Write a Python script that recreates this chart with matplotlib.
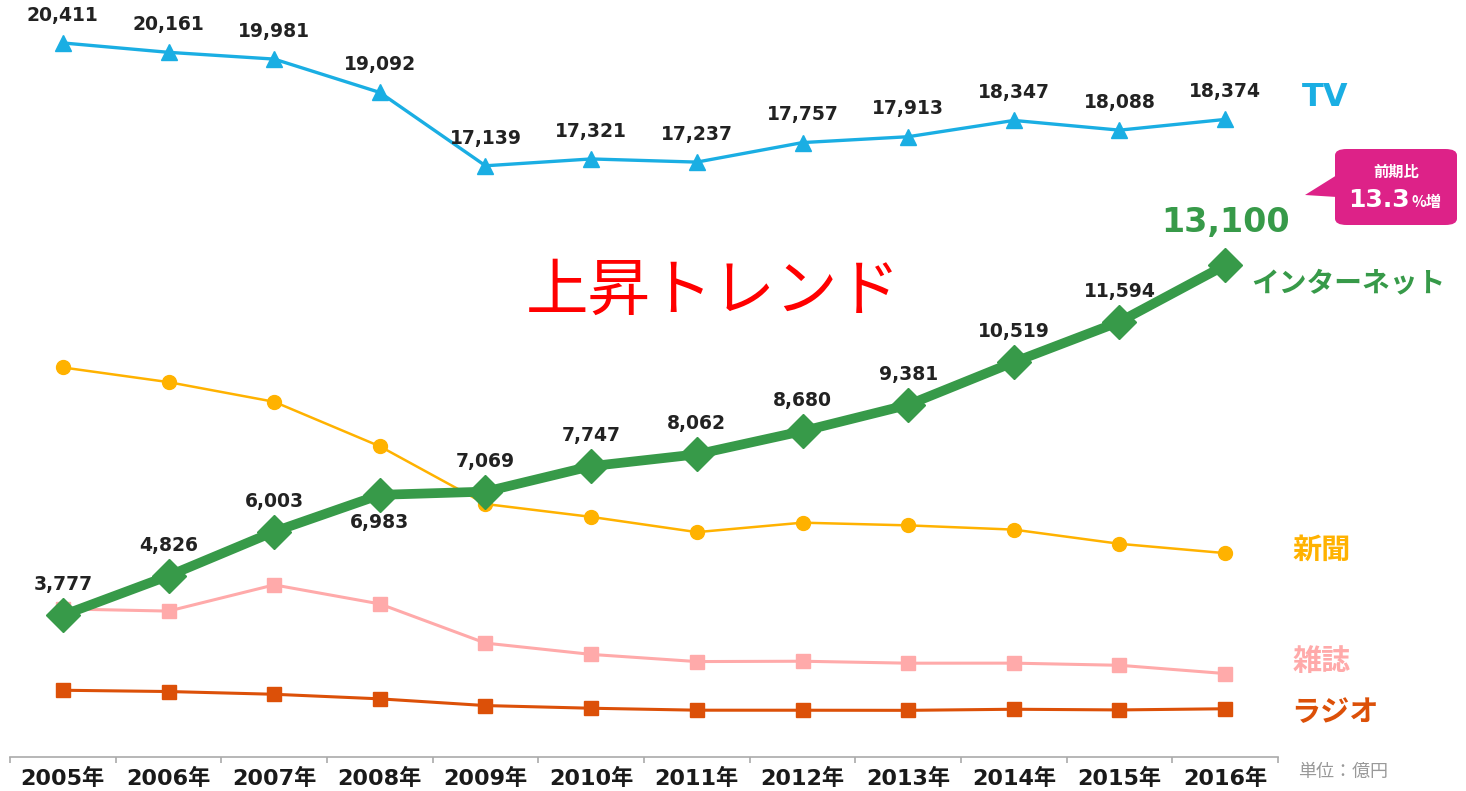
import matplotlib.pyplot as plt
from matplotlib.patches import FancyBboxPatch, Polygon
import numpy as np

years = ["2005年", "2006年", "2007年", "2008年", "2009年", "2010年",
         "2011年", "2012年", "2013年", "2014年", "2015年", "2016年"]
tv = [20411, 20161, 19981, 19092, 17139, 17321, 17237, 17757, 17913, 18347, 18088, 18374]
internet = [3777, 4826, 6003, 6983, 7069, 7747, 8062, 8680, 9381, 10519, 11594, 13100]
newspaper = [10377, 9986, 9462, 8276, 6739, 6396, 5990, 6242, 6170, 6057, 5679, 5431]
magazine = [3945, 3887, 4585, 4078, 3034, 2733, 2542, 2551, 2499, 2500, 2443, 2223]
radio = [1778, 1744, 1671, 1549, 1370, 1299, 1247, 1246, 1243, 1272, 1254, 1285]

JP = ['Noto Sans CJK JP', 'DejaVu Sans']
NUM = ['DejaVu Sans', 'Noto Sans CJK JP']

c_tv = '#1aaee3'
c_net = '#379a49'
c_news = '#ffb200'
c_mag = '#ffaaaa'
c_radio = '#dc5008'
c_call = '#dd2288'

W, H = 1466, 791
fig = plt.figure(figsize=(W / 100, H / 100), dpi=100)


def px(x, y):
    return (x / W, 1 - y / H)


ax = fig.add_axes([10 / W, 34 / H, 1268 / W, 757 / H])
ymax = 20165
ax.set_xlim(-0.5, 11.5)
ax.set_ylim(0, ymax)
# TV is drawn on a shifted axis with the same scale (broken axis look)
shift = 1390
ax2 = ax.twinx()
ax2.set_ylim(shift, ymax + shift)
ax2.axis('off')

x = np.arange(len(years))

ax.plot(x, radio, color=c_radio, lw=2.2, marker='s', ms=10, zorder=2)
ax.plot(x, magazine, color=c_mag, lw=2.2, marker='s', ms=10, zorder=2)
ax.plot(x, newspaper, color=c_news, lw=1.8, marker='o', ms=10, zorder=2)
ax.plot(x, internet, color=c_net, lw=7, marker='D', ms=17, zorder=3)
ax2.plot(x, tv, color=c_tv, lw=2.4, marker='^', ms=11, zorder=3)

# value labels
for i, v in enumerate(tv):
    ax2.annotate(f"{v:,}", (i, v), xytext=(0, 20), textcoords='offset points',
                 ha='center', va='center', fontsize=13.5, fontweight='bold',
                 color='#222222', family=NUM)
for i, v in enumerate(internet):
    if i == len(internet) - 1:
        ax.annotate(f"{v:,}", (i, v), xytext=(0, 31), textcoords='offset points',
                    ha='center', va='center', fontsize=24, fontweight='bold',
                    color=c_net, family=NUM)
        continue
    dy = -20 if i == 3 else 22
    ax.annotate(f"{v:,}", (i, v), xytext=(0, dy), textcoords='offset points',
                ha='center', va='center', fontsize=13.5, fontweight='bold',
                color='#222222', family=NUM)

# axis styling
for s in ['top', 'right', 'left']:
    ax.spines[s].set_visible(False)
ax.spines['bottom'].set_color('#aaaaaa')
ax.spines['bottom'].set_linewidth(1.2)
ax.set_yticks([])
ax.set_xticks(x)
ax.set_xticklabels(years, fontsize=16, fontweight='bold', family=NUM, color='#1a1a1a')
ax.tick_params(axis='x', length=0, pad=8)
ax.set_xticks(np.arange(-0.5, 12, 1), minor=True)
ax.tick_params(axis='x', which='minor', length=4, color='#aaaaaa', width=1.2)

# series names
fig.text(*px(1325, 97), "TV", ha='center', va='center', fontsize=23,
         fontweight='bold', color=c_tv, family=NUM)
fig.text(*px(1348, 283), "インターネット", ha='center', va='center', fontsize=20,
         fontweight='bold', color=c_net, family=JP)
fig.text(*px(1322, 550), "新聞", ha='center', va='center', fontsize=21,
         fontweight='bold', color=c_news, family=JP)
fig.text(*px(1322, 661), "雑誌", ha='center', va='center', fontsize=21,
         fontweight='bold', color=c_mag, family=JP)
fig.text(*px(1335, 712), "ラジオ", ha='center', va='center', fontsize=21,
         fontweight='bold', color=c_radio, family=JP)
fig.text(*px(1343, 772), "単位：億円", ha='center', va='center', fontsize=13,
         color='#999999', family=JP)

fig.text(*px(713, 292), "上昇トレンド", ha='center', va='center', fontsize=45,
         color='#ff0000', family=JP)

# callout
box = FancyBboxPatch(px(1335, 225), 122 / W, 76 / H,
                     boxstyle='round,pad=0,rounding_size=0.008',
                     transform=fig.transFigure, facecolor=c_call, edgecolor='none')
fig.patches.append(box)
tri = Polygon([px(1337, 175), px(1305, 195), px(1337, 197)], closed=True,
              transform=fig.transFigure, facecolor=c_call, edgecolor='none')
fig.patches.append(tri)
fig.text(*px(1396, 172), "前期比", ha='center', va='center', fontsize=11,
         fontweight='bold', color='white', family=JP)
fig.text(*px(1410, 200), "13.3", ha='right', va='center', fontsize=18,
         fontweight='bold', color='white', family=NUM)
fig.text(*px(1411, 202), "%増", ha='left', va='center', fontsize=11,
         fontweight='bold', color='white', family=JP)

fig.savefig('out.png', dpi=100)
